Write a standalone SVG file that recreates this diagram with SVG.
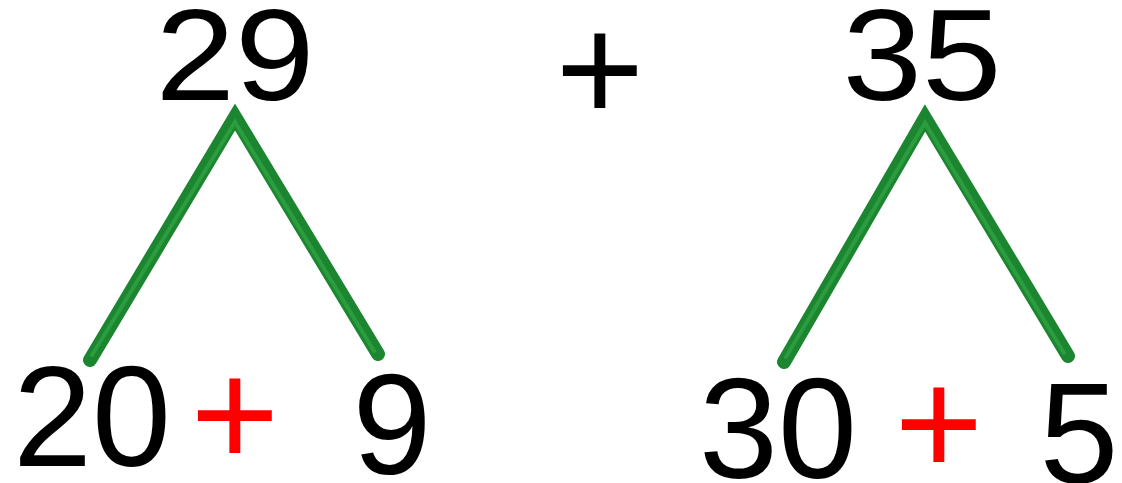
<svg xmlns="http://www.w3.org/2000/svg" width="1122" height="483" viewBox="0 0 1122 483">
<style>
.num{font-family:"Liberation Sans",Arial,sans-serif;fill:#000;text-anchor:middle}
.top{font-size:130px}
.bot{font-size:142px}
.plus{font-family:"Liberation Sans",Arial,sans-serif;font-size:152px;text-anchor:middle}
.branch{fill:none;stroke:#1c8530;stroke-width:14;stroke-linejoin:miter;stroke-miterlimit:10;stroke-linecap:round}
.shine{fill:none;stroke:#32a646;stroke-width:4;stroke-linejoin:miter;stroke-linecap:round;opacity:0.7}
</style>
<rect width="1122" height="483" fill="#fff"/>
<g id="connectors">
<polyline class="branch" points="90,360 235,117 378,354"/>
<polyline class="shine" points="92,355 235,122 374,351"/>
<polyline class="branch" points="784,362 925,118 1068,356"/>
<polyline class="shine" points="786,357 925,123 1064,353"/>
</g>
<g id="n29"><text class="num top" transform="translate(235,100) scale(1.1,1)">29</text></g>
<g id="n35"><text class="num top" transform="translate(922,100) scale(1.1,1)">35</text></g>
<g id="plusMain"><text class="plus" x="600" y="121" fill="#000">+</text></g>
<g id="n20"><text class="num bot" x="92" y="466">20</text></g>
<g id="plusLeft"><text class="plus" x="235" y="466" fill="#ff0000">+</text></g>
<g id="n9"><text class="num bot" x="392" y="474">9</text></g>
<g id="n30"><text class="num bot" x="778" y="478">30</text></g>
<g id="plusRight"><text class="plus" x="939" y="475" fill="#ff0000">+</text></g>
<g id="n5"><text class="num bot" x="1079" y="483">5</text></g>
</svg>
